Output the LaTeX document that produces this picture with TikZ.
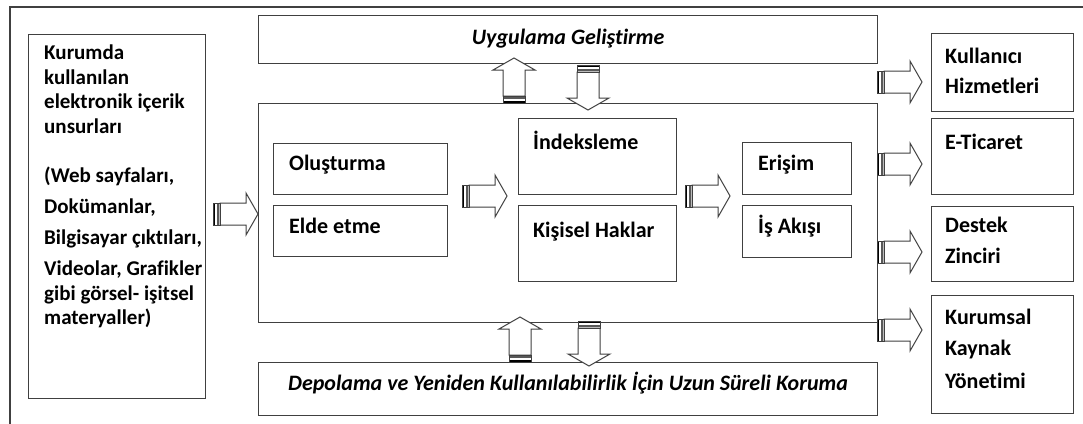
\documentclass[tikz,border=0pt]{standalone}
\usepackage{fontspec}
\setmainfont{Carlito}[Ligatures=NoCommon]
\usetikzlibrary{calc}
\begin{document}
\begin{tikzpicture}[x=1pt,y=-1pt,
  frame/.style={draw=black!75,line width=1.2pt},
  box/.style={draw=black!75,line width=1.2pt,fill=white,inner sep=0pt,anchor=north west},
  lbl/.style={anchor=mid west,inner sep=0pt,font=\fontsize{22}{26}\selectfont\bfseries},
  srclbl/.style={lbl,font=\fontsize{21}{25}\selectfont\bfseries},
  ttl/.style={anchor=mid,inner sep=0pt,font=\fontsize{22}{26}\selectfont\bfseries\itshape},
  arrowline/.style={draw=black!75,line width=1pt}]
\useasboundingbox (0,0) rectangle (1083,423);
% outer frame (runs off the right and bottom edges)
\draw[frame] (10,7) rectangle (1100,440);

% striped block arrow: tail at #1, direction #2 (degrees)
\newcommand{\blockarrow}[2]{%
  \begin{scope}[shift={#1},rotate=#2]
    \draw[arrowline,fill=white] (7,-11) -- (33,-11) -- (33,-21) -- (45,0)
      -- (33,21) -- (33,11) -- (7,11) -- cycle;
    \fill[black] (0,-11) rectangle (2.4,11);
    \fill[black!65] (3.6,-11) rectangle (6.2,11);
    \draw[arrowline] (0,-11) rectangle (7,11);
  \end{scope}}

% boxes
\node[box,minimum width=177pt,minimum height=364pt] (src) at (28,34) {};
\node[box,minimum width=619pt,minimum height=48pt] (app) at (258,15) {};
\node[box,minimum width=619pt,minimum height=219pt] (main) at (258,103) {};
\node[box,minimum width=619pt,minimum height=53pt] (store) at (258,362) {};
\node[box,minimum width=174pt,minimum height=51pt] (olus) at (273,143) {};
\node[box,minimum width=174pt,minimum height=51pt] (elde) at (273,205) {};
\node[box,minimum width=158pt,minimum height=76pt] (indeks) at (518,118) {};
\node[box,minimum width=158pt,minimum height=76pt] (hak) at (518,205) {};
\node[box,minimum width=109pt,minimum height=52pt] (erisim) at (742,142) {};
\node[box,minimum width=109pt,minimum height=52pt] (akis) at (742,205) {};
\node[box,minimum width=142pt,minimum height=78pt] (kh) at (931,33) {};
\node[box,minimum width=142pt,minimum height=76pt] (eti) at (931,118) {};
\node[box,minimum width=142pt,minimum height=75pt] (dz) at (931,206) {};
\node[box,minimum width=142pt,minimum height=118pt] (kky) at (931,295) {};

% labels
\node[ttl] (appt) at ($(app.center)+(0,3)$) {Uygulama Geliştirme};
\node[ttl] (storet) at ($(store.west)+(310,-1)$) {Depolama ve Yeniden Kullanılabilirlik İçin Uzun Süreli Koruma};

\node[srclbl] (s1) at (44,57) {Kurumda};
\node[srclbl] (s2) at (44,82) {kullanılan};
\node[srclbl] (s3) at (44,106) {elektronik içerik};
\node[srclbl] (s4) at (44,131) {unsurları};
\node[srclbl] (s5) at (44,180) {(Web sayfaları,};
\node[srclbl] (s6) at (44,211) {Dokümanlar,};
\node[srclbl] (s7) at (44,242) {Bilgisayar çıktıları,};
\node[srclbl] (s8) at (44,273) {Videolar, Grafikler};
\node[srclbl] (s9) at (44,298) {gibi görsel- işitsel};
\node[srclbl] (s10) at (44,322) {materyaller)};

\node[lbl] (olust) at (289,168) {Oluşturma};
\node[lbl] (eldet) at (289,231) {Elde etme};
\node[lbl] (indekst) at (533,147) {İndeksleme};
\node[lbl] (hakt) at (533,235) {Kişisel Haklar};
\node[lbl] (erisimt) at (758,168) {Erişim};
\node[lbl] (akist) at (758,231) {İş Akışı};

\node[lbl] (kh1) at (945,61) {Kullanıcı};
\node[lbl] (kh2) at (945,91) {Hizmetleri};
\node[lbl] (eti1) at (945,147) {E-Ticaret};
\node[lbl] (dz1) at (945,230) {Destek};
\node[lbl] (dz2) at (945,261) {Zinciri};
\node[lbl] (kky1) at (945,322) {Kurumsal};
\node[lbl] (kky2) at (945,353) {Kaynak};
\node[lbl] (kky3) at (945,386) {Yönetimi};

% block arrows
\blockarrow{(213,214)}{0}
\blockarrow{(462,196)}{0}
\blockarrow{(685,196)}{0}
\blockarrow{(514,103)}{90}
\blockarrow{(588,65)}{-90}
\blockarrow{(520,362)}{90}
\blockarrow{(589,321)}{-90}
\blockarrow{(877,82)}{0}
\blockarrow{(877,164)}{0}
\blockarrow{(877,252)}{0}
\blockarrow{(877,330)}{0}
\end{tikzpicture}
\end{document}
